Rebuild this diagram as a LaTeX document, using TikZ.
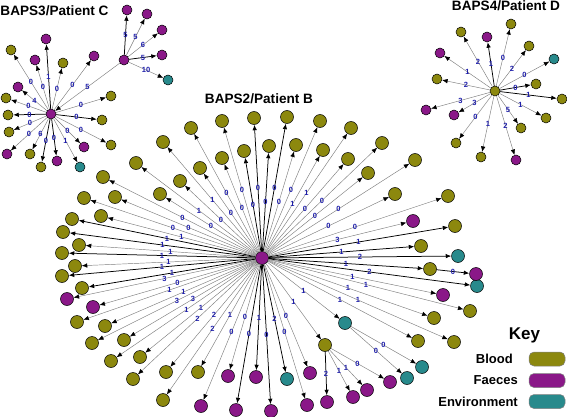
\documentclass[tikz,border=0pt]{standalone}
\usepackage{fontspec}
\setmainfont{Liberation Sans}
\usetikzlibrary{arrows.meta}
\definecolor{blood}{RGB}{140,136,14}
\definecolor{faeces}{RGB}{138,24,136}
\definecolor{env}{RGB}{40,138,140}
\definecolor{lab}{RGB}{30,30,170}
\definecolor{egray}{RGB}{125,125,125}
\begin{document}
\begin{tikzpicture}[x=1pt,y=-1pt,
  leaf/.style={circle,draw=black,line width=0.5pt,inner sep=0pt},
  big/.style={minimum size=13pt},
  sm/.style={minimum size=10pt},
  B/.style={leaf,fill=blood},
  F/.style={leaf,fill=faeces},
  E/.style={leaf,fill=env},
  g/.style={draw=egray,line width=0.45pt,-{Latex[length=5.5pt,width=4.5pt,color=black]}},
  d/.style={draw=black,line width=0.75pt,-{Latex[length=5.5pt,width=4.5pt,color=black]}},
  num/.style={font=\fontsize{7.5}{7.5}\selectfont\bfseries,text=lab,inner sep=0pt},
  title/.style={font=\fontsize{13.6}{13.6}\selectfont\bfseries,inner sep=0pt},
  keytxt/.style={font=\fontsize{13}{13}\selectfont\bfseries,inner sep=0pt,anchor=east},
  swatch/.style={draw=gray,line width=0.5pt,rounded corners=5pt,minimum width=36pt,minimum height=14pt,inner sep=0pt}
]
\useasboundingbox (0,0) rectangle (567,417);

% ---------- BAPS2 / Patient B ----------
\node[F,big] (mc) at (262,258) {};
\foreach \n/\x/\y/\s in {
 1/62/253/B, 2/63/232/B, 3/72/219/B, 4/79/245/B, 5/84/198/B, 6/101/216/B,
 7/103/177/B, 8/115/197/B, 9/136/163/B, 10/160/194/B, 11/163/142/B, 12/180/181/B,
 13/191/128/B, 14/200/168/B, 15/222/121/B, 16/222/158/B, 17/244/151/B, 18/254/118/B,
 19/269/146/B, 20/287/117/B, 21/296/145/B, 22/320/121/B, 23/323/150/B, 24/348/159/B,
 25/351/128/B, 26/368/173/B, 27/382/143/B, 28/395/194/B, 29/415/160/B, 30/448/196/B,
 31/413/221/F, 32/455/226/B, 33/421/246/B, 34/458/256/E, 35/430/269/B, 36/477/286/E,
 37/443/295/F, 38/470/311/B, 39/434/318/B, 40/418/341/B, 41/454/342/B, 42/345/323/E,
 43/325/345/B, 44/287/379/E, 45/310/373/F, 46/307/405/F, 47/271/411/F, 48/256/377/F,
 49/236/410/F, 50/228/376/F, 51/201/406/F, 52/198/372/B, 53/166/372/B, 54/163/400/B,
 55/140/357/B, 56/133/379/B, 57/124/340/B, 58/111/361/B, 59/105/326/B, 60/92/343/B,
 61/77/322/B, 62/93/307/F, 63/67/299/F, 64/82/288/B, 65/62/276/B, 66/75/266/B}
 \node[\s,big] (m\n) at (\x,\y) {};
\foreach \n/\x/\y/\s in {1/422/367/E, 2/407/378/E, 3/390/382/F, 4/367/390/F,
 5/353/397/F, 6/327/402/F, 7/476/274/F}
 \node[\s,big] (s\n) at (\x,\y) {};

\foreach \n/\l/\e in {
 1/1/d, 2/1/d, 3/1/d, 4/1/g, 5/0/g, 6/1/g, 7/0/g, 8/0/g, 9/1/g, 10/0/g, 11/1/g,
 12/0/g, 13/0/g, 14/0/g, 15/0/g, 16/0/g, 17/0/d, 18/0/d, 19/0/d, 20/0/d, 21/0/g,
 22/0/g, 23/1/g, 24/0/g, 25/1/g, 26/0/g, 27/0/g, 28/0/g, 29/0/g, 30/0/g, 31/3/g,
 32/1/d, 33/1/d, 34/2/d, 35/1/d, 36/2/d, 37/1/g, 38/1/g, 39/1/g, 40/1/g, 41/1/g,
 42/1/g, 43/1/g, 44/2/d, 45/0/g, 46/0/g, 47/0/d, 48/1/d, 49/0/d, 50/0/g, 51/0/g,
 52/1/g, 53/2/g, 54/2/g, 55/1/g, 56/2/g, 57/3/g, 58/1/g, 59/1/g, 60/3/g, 61/1/g,
 62/0/g, 63/3/g, 64/1/d, 65/1/d, 66/1/g}
 \draw[\e] (mc) -- node[num]{\l} (m\n);
\draw[g] (m42) -- node[num]{0} (s1);
\draw[g] (m42) -- node[num]{0} (s2);
\draw[g] (m43) -- node[num]{0} (s3);
\draw[g] (m43) -- node[num]{1} (s4);
\draw[g] (m43) -- node[num]{1} (s5);
\draw[d] (m43) -- node[num]{2} (s6);
\draw[d] (m35) -- node[num]{0} (s7);

% ---------- BAPS3 / Patient C ----------
\node[F,sm] (c3) at (51,114) {};
\node[F,sm] (h3) at (124,60) {};
\foreach \n/\x/\y/\s/\l/\e in {
 1/46/39/F/1/d, 2/11/50/B/0/g, 3/35/60/F/0/g, 4/63/63/B/0/g, 5/94/56/F/0/g,
 6/18/87/F/4/g, 7/6/98/B/0/g, 8/111/96/B/0/g, 9/8/115/B/0/d, 10/102/120/B/0/d,
 11/9/132/B/0/g, 12/111/145/B/0/g, 13/84/147/F/0/g, 14/7/154/F/0/g, 15/30/154/B/6/g,
 16/41/167/B/0/d, 17/57/161/F/0/d, 18/80/167/E/1/g}
 {\node[\s,sm] (p\n) at (\x,\y) {};
  \draw[\e] (c3) -- node[num]{\l} (p\n);}
\draw[g] (h3) -- node[num]{5} (c3);
\foreach \n/\x/\y/\s/\l/\e in {
 1/127/10/F/5/d, 2/147/14/F/5/g, 3/162/30/F/6/g, 4/162/55/F/5/d, 5/168/80/E/10/g}
 {\node[\s,sm] (q\n) at (\x,\y) {};
  \draw[\e] (h3) -- node[num]{\l} (q\n);}

% ---------- BAPS4 / Patient D ----------
\node[B,sm] (c4) at (495,91) {};
\foreach \n/\x/\y/\s/\l/\e in {
 1/461/32/B/2/g, 2/487/37/F/1/d, 3/511/24/B/0/g, 4/529/46/B/2/g, 5/554/59/E/0/g,
 6/440/53/F/1/g, 7/437/79/B/2/g, 8/536/84/B/0/d, 9/562/99/B/1/d, 10/426/110/F/3/g,
 11/454/115/F/3/g, 12/546/118/B/1/g, 13/521/128/B/5/g, 14/456/143/B/0/g,
 15/481/157/B/1/g, 16/516/160/F/2/g}
 {\node[\s,sm] (r\n) at (\x,\y) {};
  \draw[\e] (c4) -- node[num]{\l} (r\n);}

% ---------- titles ----------
\node[title] (t3) at (54.5,11) {BAPS3/Patient C};
\node[title] (t2) at (259,99) {BAPS2/Patient B};
\node[title] (t4) at (506,6) {BAPS4/Patient D};

% ---------- key ----------
\node[font=\fontsize{17}{17}\selectfont\bfseries,inner sep=0pt] (key) at (524.5,335) {Key};
\node[keytxt] (kb) at (513,359) {Blood};
\node[keytxt] (kf) at (518,380.5) {Faeces};
\node[keytxt] (ke) at (518,401.5) {Environment};
\node[swatch,fill=blood] (sb) at (547,359) {};
\node[swatch,fill=faeces] (sf) at (547,380.5) {};
\node[swatch,fill=env] (se) at (547,401.5) {};
\end{tikzpicture}
\end{document}
